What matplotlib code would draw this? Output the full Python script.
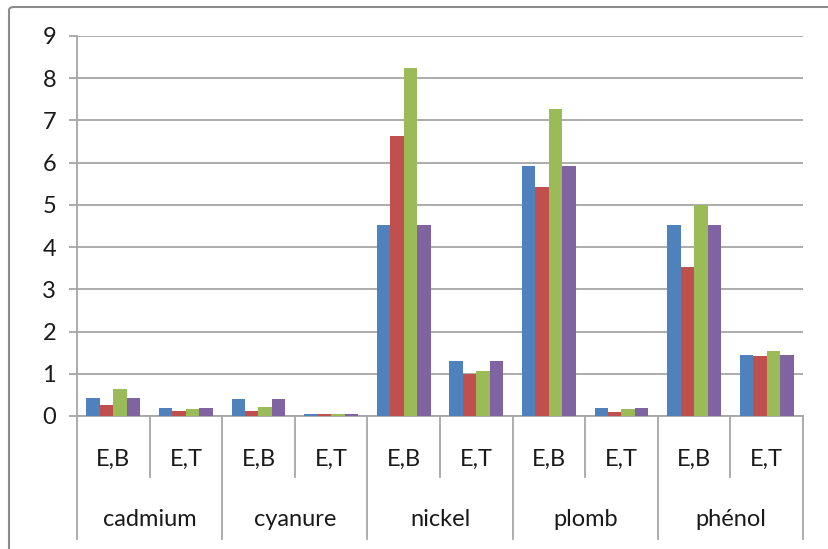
import matplotlib
matplotlib.use("Agg")
import matplotlib.pyplot as plt
from matplotlib.patches import FancyBboxPatch
import numpy as np

plt.rcParams['font.family'] = ['Lato', 'DejaVu Sans']

substances = ["cadmium", "cyanure", "nickel", "plomb", "phénol"]
sub_labels = ["E,B", "E,T"]

serie_1 = [0.42, 0.20, 0.40, 0.05, 4.53, 1.30, 5.93, 0.20, 4.53, 1.45]
serie_2 = [0.27, 0.13, 0.13, 0.05, 6.63, 1.00, 5.42, 0.10, 3.53, 1.42]
serie_3 = [0.65, 0.17, 0.22, 0.05, 8.25, 1.07, 7.27, 0.17, 5.00, 1.53]
serie_4 = [0.42, 0.20, 0.40, 0.05, 4.53, 1.30, 5.93, 0.20, 4.53, 1.45]

colors = ["#4F81BD", "#C0504D", "#9BBB59", "#8064A2"]
grid_col = "#A6A6A6"
text_col = "#1A1A1A"
fs = 17

W, H = 829, 549
fig = plt.figure(figsize=(W / 100, H / 100), dpi=100)

# outer chart frame (runs off the right and bottom edges)
frame = FancyBboxPatch((9 / W, -20 / H), 860 / W, (H - 7 + 20) / H,
                       boxstyle="round,pad=0,rounding_size=0.006",
                       transform=fig.transFigure, fill=False,
                       edgecolor="#8C8C8C", linewidth=1.5, clip_on=False)
fig.patches.append(frame)

ax = fig.add_axes([77 / W, (H - 416) / H, (803 - 77) / W, 380 / H])

n = len(serie_1)
x = np.arange(n)
bw = 0.185
series = [serie_1, serie_2, serie_3, serie_4]
for i, (vals, c) in enumerate(zip(series, colors)):
    ax.bar(x + (i - 1.5) * bw, vals, width=bw, color=c, zorder=3,
           edgecolor="none")

ax.set_xlim(-0.5, n - 0.5)
ax.set_ylim(0, 9)
ax.set_yticks(range(0, 10))
ax.yaxis.grid(True, color=grid_col, linewidth=1.3, zorder=0)
ax.set_axisbelow(True)
for s in ["top", "right"]:
    ax.spines[s].set_visible(False)
ax.spines["left"].set_color(grid_col)
ax.spines["left"].set_linewidth(1.3)
ax.spines["bottom"].set_color(grid_col)
ax.spines["bottom"].set_linewidth(1.3)
ax.tick_params(axis="y", length=6, color=grid_col, width=1.3,
               labelsize=fs, labelcolor=text_col, pad=9)
ax.set_xticks([])

# two-level category axis
px = 1.0 / 380  # one pixel in axes fraction (vertical)
minor_bottom = -(477 - 416) * px
major_bottom = -(539 - 416) * px
xt = ax.get_xaxis_transform()
for k in range(n + 1):
    pos = k - 0.5
    y0 = major_bottom if k % 2 == 0 else minor_bottom
    ax.plot([pos, pos], [0, y0], transform=xt,
            color=grid_col, linewidth=1.3, clip_on=False)

for k in range(n):
    ax.text(k, -(459 - 416) * px, sub_labels[k % 2], transform=xt,
            ha="center", va="center", fontsize=fs, color=text_col)
for j, name in enumerate(substances):
    ax.text(2 * j + 0.5, -(519 - 416) * px, name, transform=xt,
            ha="center", va="center", fontsize=fs, color=text_col)

fig.savefig("out.png", dpi=100)
